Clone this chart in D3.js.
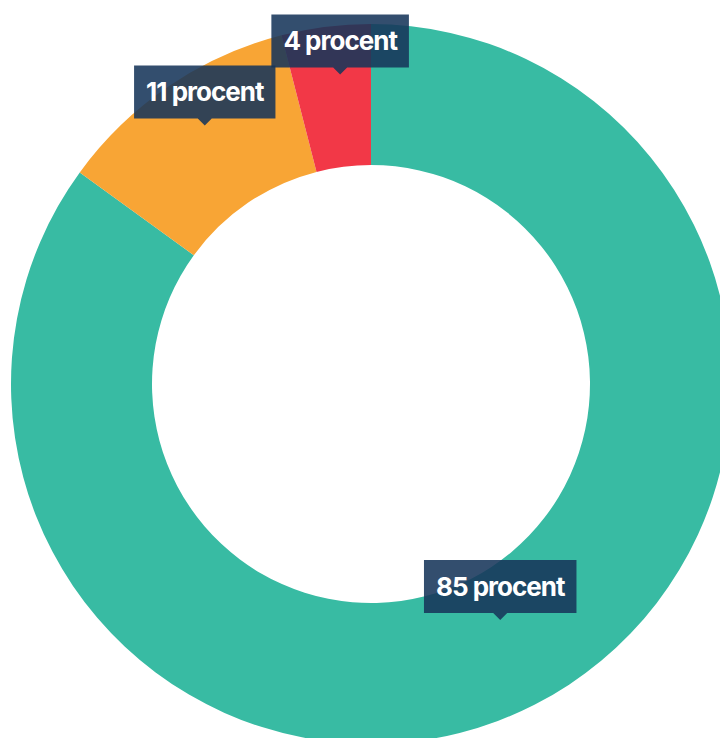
<!DOCTYPE html>
<html>
<head>
<meta charset="utf-8">
<script src="https://cdn.jsdelivr.net/npm/d3@7"></script>
<style>
  html, body { margin: 0; padding: 0; background: #fff; }
  svg { display: block; }
</style>
</head>
<body>
<svg id="chart" width="720" height="738"></svg>
<script>
// Share of answers, in percent, clockwise from twelve o'clock
const categories = ["a", "b", "c"];
const values = [85, 11, 4];
const labels = ["85 procent", "11 procent", "4 procent"];
const colors = ["#38bba3", "#f8a535", "#f23847"];

const svg = d3.select("#chart");
const cx = 371, cy = 384;
const outerR = 360, innerR = 219;

const pie = d3.pie().sort(null).value(d => d.value);
const data = pie(categories.map((c, i) => ({ key: c, value: values[i], label: labels[i], color: colors[i] })));

const arc = d3.arc().innerRadius(innerR).outerRadius(outerR);

const g = svg.append("g").attr("transform", `translate(${cx},${cy})`);

g.selectAll("path.slice")
  .data(data)
  .join("path")
  .attr("class", "slice")
  .attr("d", arc)
  .attr("fill", d => d.data.color);

// Callout labels: a dark box with a small pointer at the slice's anchor
const bigLabelArc = d3.arc().innerRadius(267).outerRadius(267);
const smallLabelArc = d3.arc().innerRadius(310).outerRadius(310);

const boxH = 53, padX = 12, tipH = 7, tipW = 7;

const labelG = g.selectAll("g.callout")
  .data(data)
  .join("g")
  .attr("class", "callout")
  .attr("transform", d => {
    const p = (d.data.value > 50 ? bigLabelArc : smallLabelArc).centroid(d);
    return `translate(${p[0] + 8},${p[1] - 2})`;
  });

labelG.each(function(d) {
  const sel = d3.select(this);
  const text = sel.append("text")
    .attr("x", 0)
    .attr("y", -tipH - boxH / 2)
    .attr("dy", "0.36em")
    .attr("text-anchor", "middle")
    .attr("fill", "#ffffff")
    .attr("font-family", "Inter, Roboto, sans-serif")
    .attr("font-weight", 700)
    .attr("font-size", 26)
    .attr("letter-spacing", -1)
    .text(d.data.label);
  const w = text.node().getComputedTextLength() + padX * 2;
  const top = -tipH - boxH;
  const path = `M${-w / 2},${top}H${w / 2}V${-tipH}H${tipW}L0,0L${-tipW},${-tipH}H${-w / 2}Z`;
  sel.insert("path", "text")
    .attr("d", path)
    .attr("fill", "#17365a")
    .attr("fill-opacity", 0.88);
});
</script>
</body>
</html>
